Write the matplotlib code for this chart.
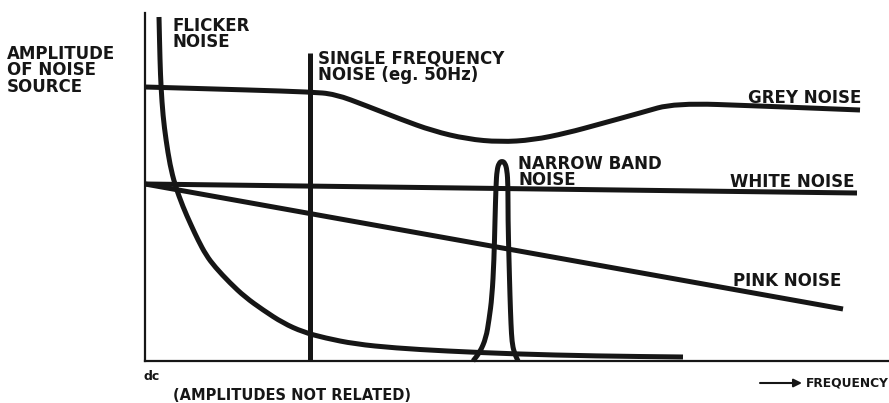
import matplotlib
matplotlib.use("Agg")
import matplotlib.pyplot as plt
from matplotlib.path import Path
from matplotlib.patches import PathPatch

INK = "#161616"

# noise spectra, frequency runs from dc (0) to the right, amplitude upwards
grey_f = [0, 105, 165, 190, 222, 255, 288, 322, 355, 388, 422, 455, 495, 530, 615, 715]
grey_a = [274, 271, 269, 267, 255, 242, 230, 222, 219, 221, 228, 237, 248, 258, 255, 251]

white_f = [0, 712]
white_a = [177, 168]

pink_f = [0, 698]
pink_a = [177, 52]

flicker_f = [14, 15, 16, 18, 21, 25, 30, 38, 46, 53, 61, 70, 85, 100, 118, 138,
             158, 180, 210, 250, 300, 370, 450, 538]
flicker_a = [344, 300, 274, 245, 221, 196, 176, 154, 136, 121, 106, 94, 78, 64, 51, 38,
             29, 23, 17, 13, 10, 7, 5, 4]

narrow_f = [328, 335, 341, 344, 347, 349, 350, 351, 352, 354, 357, 360, 362, 363,
            363, 364, 365, 366, 367, 369, 373]
narrow_a = [0, 9, 23, 41, 64, 101, 141, 176, 191, 198, 200, 198, 191, 176,
            141, 101, 64, 36, 19, 9, 0]

single_f = 165
single_top = 308


def smooth_curve(ax, xs, ys, **kw):
    # quadratic B-spline: the read points act as control points,
    # the stroke passes through the midpoints between them
    pts = list(zip(xs, ys))
    verts = [pts[0]]
    codes = [Path.MOVETO]
    mid = lambda a, b: ((a[0] + b[0]) / 2, (a[1] + b[1]) / 2)
    verts.append(mid(pts[0], pts[1]))
    codes.append(Path.LINETO)
    for i in range(1, len(pts) - 1):
        verts += [pts[i], mid(pts[i], pts[i + 1])]
        codes += [Path.CURVE3, Path.CURVE3]
    verts.append(pts[-1])
    codes.append(Path.LINETO)
    ax.add_patch(PathPatch(Path(verts, codes), fill=False, **kw))


def run():
    fig = plt.figure(figsize=(8.89, 4.03), dpi=100)
    ax = fig.add_axes([0, 0, 1, 1])
    ax.set_xlim(-145, 744)
    ax.set_ylim(-42, 361)

    for side in ("top", "right"):
        ax.spines[side].set_visible(False)
    ax.spines["left"].set_position(("data", 0))
    ax.spines["bottom"].set_position(("data", 0))
    ax.spines["left"].set_bounds(0, 348)
    ax.spines["bottom"].set_bounds(0, 744)
    for side in ("left", "bottom"):
        ax.spines[side].set_linewidth(1.6)
        ax.spines[side].set_color(INK)
    ax.set_xticks([])
    ax.set_yticks([])

    style = dict(color=INK, lw=3.6, capstyle="butt", joinstyle="round")
    smooth_curve(ax, grey_f, grey_a, **style)
    smooth_curve(ax, flicker_f, flicker_a, **style)
    smooth_curve(ax, narrow_f, narrow_a, **style)
    ax.plot(white_f, white_a, color=INK, lw=3.6, solid_capstyle="butt")
    ax.plot(pink_f, pink_a, color=INK, lw=3.6, solid_capstyle="butt")
    ax.plot([single_f, single_f], [0, single_top], color=INK, lw=3.6,
            solid_capstyle="butt")

    lab = dict(color=INK, fontsize=12, fontweight="bold", va="top", linespacing=0.88)
    ax.text(-138, 316, "AMPLITUDE\nOF NOISE\nSOURCE", ha="left", **lab)
    ax.text(27, 344, "FLICKER\nNOISE", ha="left", **lab)
    ax.text(173, 311, "SINGLE FREQUENCY\nNOISE (eg. 50Hz)", ha="left", **lab)
    ax.text(716, 272, "GREY NOISE", ha="right", **lab)
    ax.text(373, 206, "NARROW BAND\nNOISE", ha="left", **lab)
    ax.text(710, 188, "WHITE NOISE", ha="right", **lab)
    ax.text(696, 89, "PINK NOISE", ha="right", **lab)

    ax.text(-2, -9, "dc", ha="left", va="top", fontsize=9, fontweight="bold", color=INK)
    ax.text(28, -27, "(AMPLITUDES NOT RELATED)", ha="left", va="top",
            fontsize=10.5, fontweight="bold", color=INK)
    ax.annotate("", xy=(657, -22), xytext=(615, -22),
                arrowprops=dict(arrowstyle="-|>", lw=1.5, color=INK,
                                mutation_scale=12, shrinkA=0, shrinkB=0))
    ax.text(661, -22, "FREQUENCY", ha="left", va="center",
            fontsize=8.8, fontweight="bold", color=INK)

    fig.savefig("out.png", dpi=100, facecolor="white")


if __name__ == "__main__":
    run()
